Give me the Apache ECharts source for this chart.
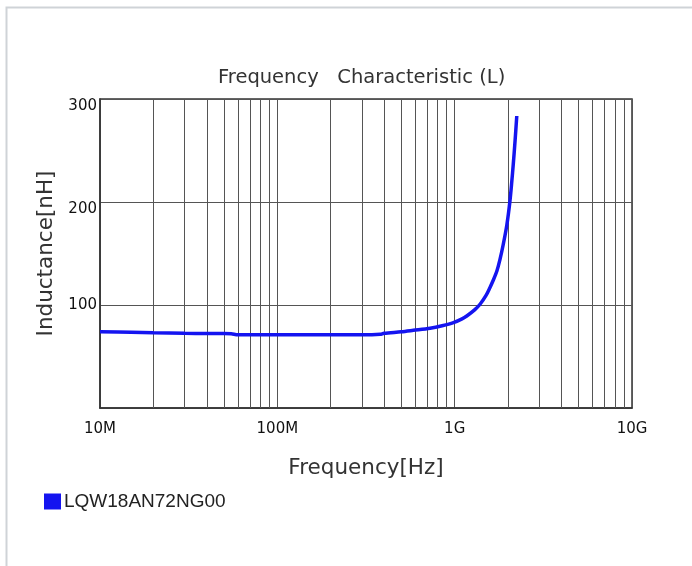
<!DOCTYPE html>
<html>
<head>
<meta charset="utf-8">
<script src="https://cdn.jsdelivr.net/npm/echarts@6/dist/echarts.min.js"></script>
<style>html,body{margin:0;padding:0;background:#fff;}#c{width:692px;height:566px;}</style>
</head>
<body>
<div id="c"></div>
<script>
// Data
const seriesName = 'LQW18AN72NG00';
const freqHz = [1e7, 1.5e7, 2e7, 3e7, 4e7, 5e7, 5.5e7, 6e7, 7e7, 1e8, 2e8, 3e8, 3.8e8, 4e8, 5e8, 5.85e8, 7.27e8, 8.5e8, 9.84e8, 1.1e9, 1.17e9, 1.3e9, 1.39e9, 1.5e9, 1.58e9, 1.65e9, 1.73e9, 1.8e9, 1.88e9, 1.97e9, 2.05e9, 2.1e9, 2.14e9, 2.19e9, 2.24e9];
const inductanceNH = [74, 73.5, 73, 72.5, 72.3, 72.3, 72, 71, 71, 71, 71, 71, 71.5, 72.5, 74, 75.4, 77.4, 79.8, 82.8, 86.5, 89.3, 95.5, 100.7, 109, 116.8, 124, 133, 144, 159, 178, 201, 220, 236.6, 259, 283.5];
const xTickLabels = ['10M', '100M', '1G', '10G'];
const yTicks = [0, 100, 200, 300];
const titleText = 'Frequency   Characteristic (L)';
const xName = 'Frequency[Hz]';
const yName = 'Inductance[nH]';

const minorLines = [];
for (let d = 1e7; d < 1e10; d *= 10) {
  for (let m = 2; m <= 9; m++) minorLines.push({ xAxis: d * m });
}

const chart = echarts.init(document.getElementById('c'), null, { renderer: 'canvas' });
const gridCol = '#555';
chart.setOption({
  animation: false,
  backgroundColor: '#fff',
  graphic: [{
    type: 'rect', left: 4, top: 5, z: -1,
    shape: { x: 0, y: 0, width: 720, height: 600 },
    style: { fill: 'none', stroke: '#cfd3d7', lineWidth: 2 }
  }],
  title: {
    text: titleText, left: 213, top: 63,
    textStyle: { fontFamily: 'DejaVu Sans', fontSize: 19.5, fontWeight: 'normal', color: '#333' }
  },
  legend: {
    data: [seriesName], left: 39, top: 487, icon: 'rect', itemWidth: 17, itemHeight: 16, itemGap: 4,
    textStyle: { fontFamily: 'Liberation Sans', fontSize: 19, color: '#222', padding: [0, 0, 0, -2] }
  },
  grid: { left: 100, top: 99, right: 60, bottom: 158, show: true, borderColor: '#333', borderWidth: 1.5, containLabel: false },
  xAxis: {
    type: 'log', logBase: 10, min: 1e7, max: 1e10,
    name: xName, nameLocation: 'middle', nameGap: 49,
    nameTextStyle: { fontFamily: 'DejaVu Sans', fontSize: 21.5, color: '#333' },
    axisLine: { show: true, lineStyle: { color: '#333', width: 1.5 } },
    axisTick: { show: false },
    axisLabel: {
      margin: 14, fontFamily: 'DejaVu Sans', fontSize: 15, color: '#111',
      formatter: v => xTickLabels[Math.round(Math.log10(v)) - 7]
    },
    splitLine: { show: true, lineStyle: { color: gridCol, width: 1 } }
  },
  yAxis: {
    type: 'value', min: yTicks[0], max: yTicks[yTicks.length - 1], interval: 100,
    name: yName, nameLocation: 'middle', nameGap: 36,
    nameTextStyle: { fontFamily: 'DejaVu Sans', fontSize: 21.5, color: '#333' },
    axisLine: { show: true, lineStyle: { color: '#333', width: 1.5 } },
    axisTick: { show: false },
    axisLabel: {
      showMinLabel: false, margin: 3, fontFamily: 'DejaVu Sans', fontSize: 15, color: '#111',
      lineHeight: 14,
      formatter: v => (v >= 200 ? '\n' + v : '' + v)
    },
    splitLine: { show: true, lineStyle: { color: gridCol, width: 1 } }
  },
  series: [
    {
      name: seriesName, type: 'line', showSymbol: false, symbol: 'none', smooth: 0.3,
      color: '#1414f0',
      lineStyle: { color: '#1414f0', width: 3.5 },
      data: freqHz.map((f, i) => [f, inductanceNH[i]]),
      z: 5
    },
    {
      name: 'minor', type: 'line', data: [], silent: true,
      markLine: {
        silent: true, symbol: 'none', label: { show: false },
        lineStyle: { color: gridCol, width: 1, type: 'solid' },
        data: minorLines
      }
    }
  ]
});
</script>
</body>
</html>
